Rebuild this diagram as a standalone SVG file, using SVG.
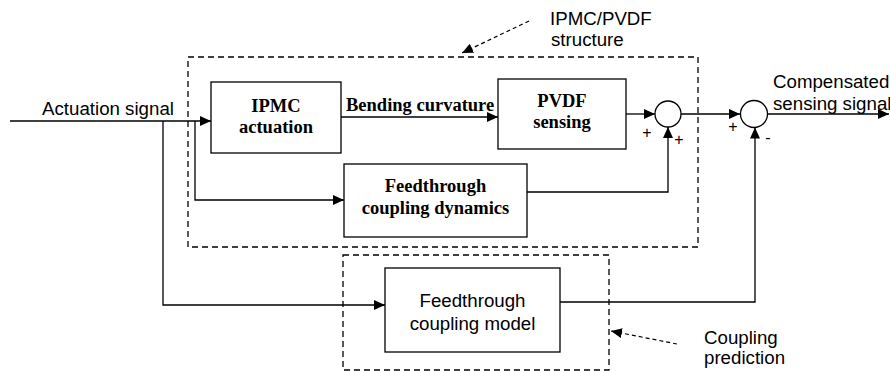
<svg xmlns="http://www.w3.org/2000/svg" width="890" height="371" viewBox="0 0 890 371">
<style>
.box{fill:#fff;stroke:#000;stroke-width:1.3}
.dash{fill:none;stroke:#000;stroke-width:1.3;stroke-dasharray:6,4}
.ln{fill:none;stroke:#000;stroke-width:1.3}
.dl{fill:none;stroke:#000;stroke-width:1.2;stroke-dasharray:4,3}
.sum{fill:#fff;stroke:#000;stroke-width:1.3}
.bs{font-family:"Liberation Serif","Times New Roman",serif;font-weight:bold;font-size:18.5px;text-anchor:middle}
.bl{font-family:"Liberation Serif","Times New Roman",serif;font-weight:bold;font-size:18.5px;text-anchor:start}
.s{font-family:"Liberation Sans",Arial,sans-serif;font-size:18.7px}
.sc{font-family:"Liberation Sans",Arial,sans-serif;font-size:18.7px;text-anchor:middle}
.sm{font-family:"Liberation Sans",Arial,sans-serif;font-size:16px;text-anchor:middle}
</style>
<defs>
<marker id="ah" markerUnits="userSpaceOnUse" markerWidth="12" markerHeight="10" refX="11" refY="5" orient="auto">
<path d="M0,0 L11,5 L0,10 z" fill="#000"/>
</marker>
</defs>
<rect width="890" height="371" fill="#fff"/>
<g id="group-structure">
<rect class="dash" x="188" y="57" width="510" height="190"/>
</g>
<g id="group-prediction">
<rect class="dash" x="343" y="255" width="266" height="115"/>
</g>
<g id="connectors">
<polyline class="ln" points="10,121 211,121" marker-end="url(#ah)"/>
<polyline class="ln" points="163,121 163,305 385,305" marker-end="url(#ah)"/>
<polyline class="ln" points="195,121 195,200 344,200" marker-end="url(#ah)"/>
<polyline class="ln" points="341,117 498,117" marker-end="url(#ah)"/>
<polyline class="ln" points="626,114 655,114" marker-end="url(#ah)"/>
<polyline class="ln" points="681,114 740,114" marker-end="url(#ah)"/>
<polyline class="ln" points="768,114 889,114" marker-end="url(#ah)"/>
<polyline class="ln" points="527,192 668,192 668,127" marker-end="url(#ah)"/>
<polyline class="ln" points="560,302 755,302 755,127.5" marker-end="url(#ah)"/>
<polyline class="dl" points="529,21 462,53" marker-end="url(#ah)"/>
<polyline class="dl" points="677,344 611,331" marker-end="url(#ah)"/>
</g>
<g id="node-ipmc">
<rect class="box" x="211" y="82" width="130" height="71"/>
<text class="bs" x="276" y="112">IPMC</text>
<text class="bs" x="276" y="133">actuation</text>
</g>
<g id="node-pvdf">
<rect class="box" x="498" y="79" width="128" height="70"/>
<text class="bs" x="562" y="107">PVDF</text>
<text class="bs" x="562" y="128">sensing</text>
</g>
<g id="node-dynamics">
<rect class="box" x="344" y="164" width="183" height="73"/>
<text class="bs" x="435.5" y="192">Feedthrough</text>
<text class="bs" x="435.5" y="214">coupling dynamics</text>
</g>
<g id="node-model">
<rect class="box" x="385" y="268" width="175" height="84"/>
<text class="sc" x="472.5" y="307">Feedthrough</text>
<text class="sc" x="472.5" y="330">coupling model</text>
</g>
<g id="node-sum1">
<circle class="sum" cx="668" cy="114" r="13"/>
<text class="sm" x="647" y="138">+</text>
<text class="sm" x="679" y="145">+</text>
</g>
<g id="node-sum2">
<circle class="sum" cx="754" cy="114" r="13.5"/>
<text class="sm" x="733" y="132">+</text>
<text class="sm" x="768" y="143">-</text>
</g>
<g id="labels">
<text class="s" x="42" y="115">Actuation signal</text>
<text class="bl" x="346" y="111">Bending curvature</text>
<text class="s" x="773" y="88">Compensated</text>
<text class="s" x="773" y="110">sensing signal</text>
<text class="s" x="550" y="25">IPMC/PVDF</text>
<text class="s" x="551" y="46">structure</text>
<text class="s" x="704" y="344">Coupling</text>
<text class="s" x="704" y="364">prediction</text>
</g>
</svg>
